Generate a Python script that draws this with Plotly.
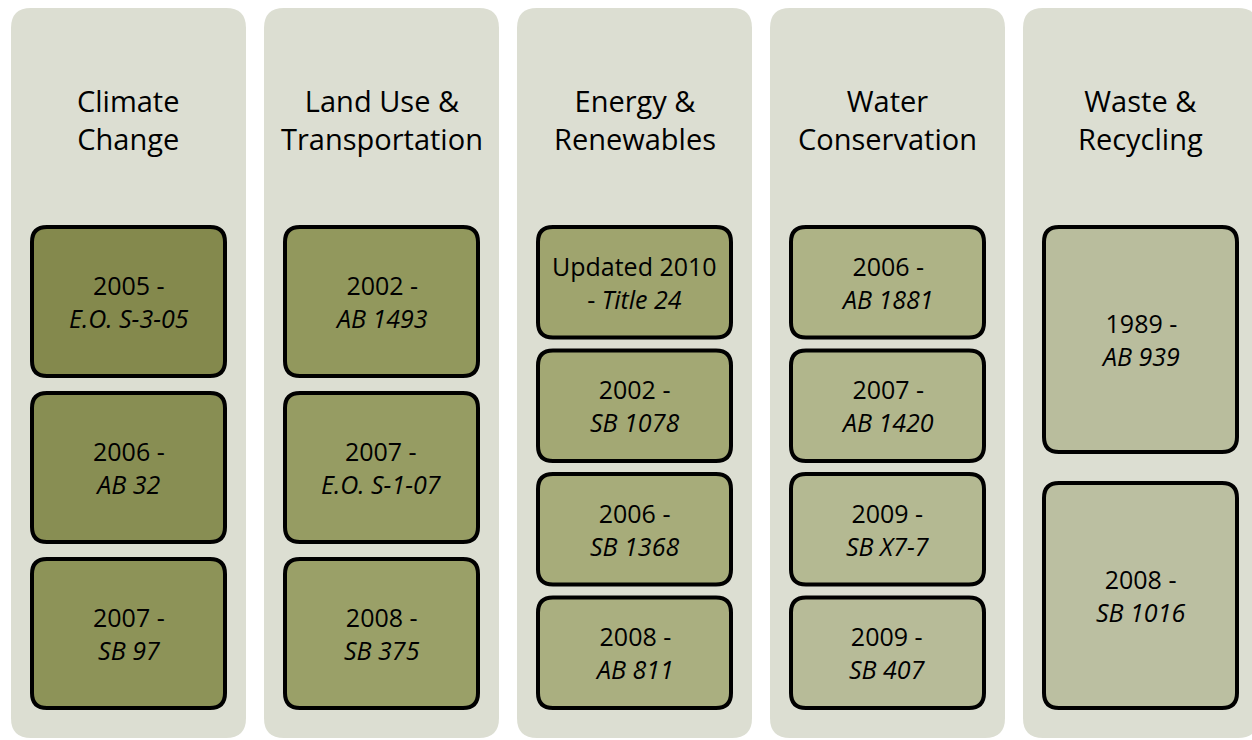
import plotly.graph_objects as go

# ---- data ----
categories = ["Climate<br>Change", "Land Use &<br>Transportation", "Energy &<br>Renewables",
              "Water<br>Conservation", "Waste &<br>Recycling"]
years = [
    ["2005 -", "2006 -", "2007 -"],
    ["2002 -", "2007 -", "2008 -"],
    ["Updated 2010", "2002 -", "2006 -", "2008 -"],
    ["2006 -", "2007 -", "2009 -", "2009 -"],
    ["1989 -", "2008 -"],
]
laws = [
    ["E.O. S-3-05", "AB 32", "SB 97"],
    ["AB 1493", "E.O. S-1-07", "SB 375"],
    ["- Title 24", "SB 1078", "SB 1368", "AB 811"],
    ["AB 1881", "AB 1420", "SB X7-7", "SB 407"],
    ["AB 939", "SB 1016"],
]

# ---- style ----
W, H = 1252, 740
col_x0, col_stride, col_w = 11, 253, 235
col_y0, col_y1, col_r = 8, 738, 20
col_fill = "#DCDED2"
box_inset, box_top, box_bot, box_r = 21, 227, 708, 15
gaps = {2: 31, 3: 17, 4: 13}
box_colors = ["#84894D", "#888E53", "#8D9358",
              "#92985D", "#969C63", "#9AA068",
              "#9FA46E", "#A3A874", "#A7AC7A", "#AAAF80",
              "#AEB386", "#B1B68C", "#B4B992", "#B7BB98",
              "#B9BD9D", "#BBBFA1"]
FONT = "Open Sans"


def rrect(x0, y0, x1, y1, r):
    return (f"M {x0+r},{y0} L {x1-r},{y0} Q {x1},{y0} {x1},{y0+r} "
            f"L {x1},{y1-r} Q {x1},{y1} {x1-r},{y1} L {x0+r},{y1} "
            f"Q {x0},{y1} {x0},{y1-r} L {x0},{y0+r} Q {x0},{y0} {x0+r},{y0} Z")


fig = go.Figure()
shapes, annotations = [], []
ci = 0
for i, cat in enumerate(categories):
    x0 = col_x0 + i * col_stride
    x1 = x0 + col_w
    cx = (x0 + x1) / 2
    shapes.append(dict(type="path", path=rrect(x0, col_y0, x1, col_y1, col_r),
                       fillcolor=col_fill, line=dict(width=0), layer="below",
                       xref="x", yref="y"))
    annotations.append(dict(x=cx, y=119, xref="x", yref="y", text=cat, showarrow=False,
                            font=dict(family=FONT, size=29, color="#000000"),
                            xanchor="center", yanchor="middle", align="center"))
    n = len(years[i])
    g = gaps[n]
    h = (box_bot - box_top - g * (n - 1)) / n
    for j in range(n):
        by0 = box_top + j * (h + g)
        by1 = by0 + h
        shapes.append(dict(type="path", path=rrect(x0 + box_inset, by0, x1 - box_inset, by1, box_r),
                           fillcolor=box_colors[ci], line=dict(color="#000000", width=4),
                           xref="x", yref="y"))
        ci += 1
        law = laws[i][j]
        if law.startswith("- "):
            txt = f"{years[i][j]}<br>- <i>{law[2:]}</i>"
        else:
            txt = f"{years[i][j]}<br><i>{law}</i>"
        annotations.append(dict(x=cx, y=(by0 + by1) / 2, xref="x", yref="y", text=txt,
                                showarrow=False, font=dict(family=FONT, size=25, color="#000000"),
                                xanchor="center", yanchor="middle", align="center"))

fig.update_layout(
    width=W, height=H, margin=dict(l=0, r=0, t=0, b=0),
    paper_bgcolor="white", plot_bgcolor="white",
    xaxis=dict(range=[0, W], visible=False, fixedrange=True),
    yaxis=dict(range=[H, 0], visible=False, fixedrange=True),
    shapes=shapes, annotations=annotations, showlegend=False,
)
fig.write_html("out.html",
               config={"displayModeBar": False},
               post_script="document.body.style.margin='0';document.body.style.overflow='hidden';")
